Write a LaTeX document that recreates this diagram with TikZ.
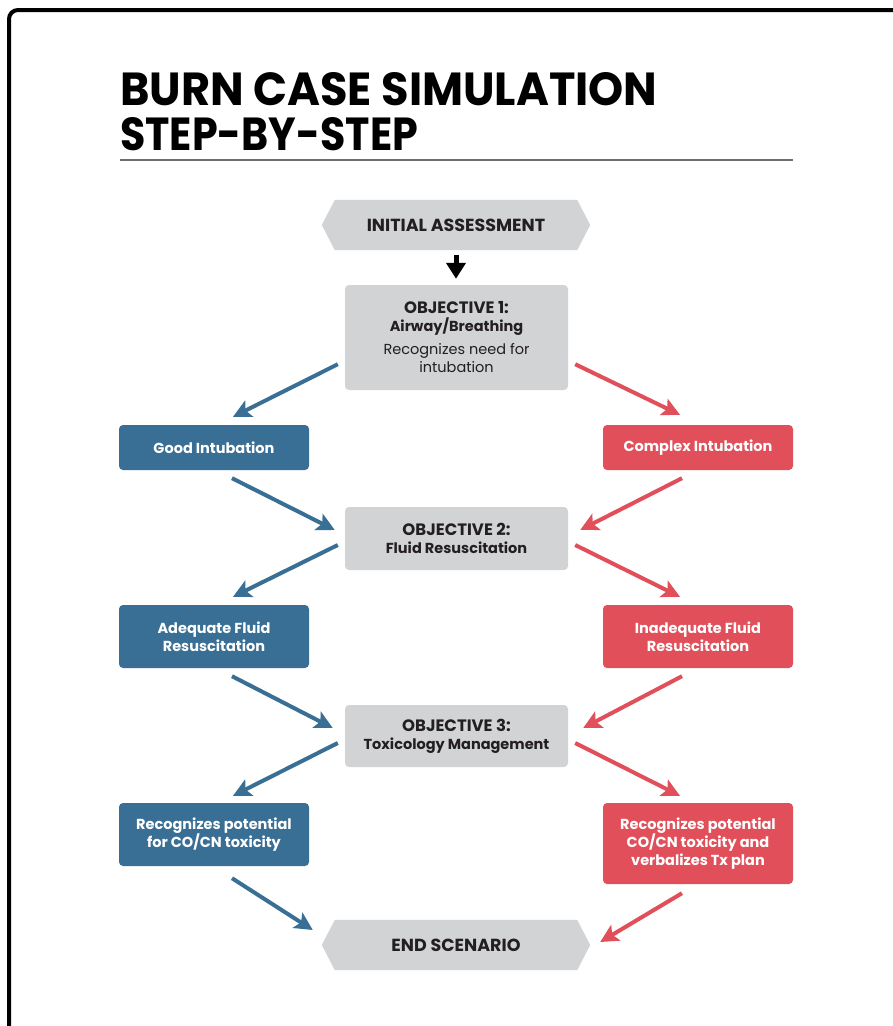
\documentclass[tikz,border=0pt]{standalone}
\usepackage{fontspec}
\usepackage{graphicx}
\setmainfont{Poppins}
\usetikzlibrary{arrows.meta,calc,backgrounds}

\definecolor{boxgray}{HTML}{D1D3D4}
\definecolor{goodblue}{HTML}{3A6F95}
\definecolor{badred}{HTML}{E1505A}
\definecolor{inkdark}{HTML}{231F20}
\definecolor{rulegray}{HTML}{6D6E70}

% type sizes for the step labels
\newcommand\capsfont{\fontsize{16.5}{18}\selectfont\bfseries}
\newcommand\boldfont{\fontsize{14.5}{18}\selectfont\bfseries}
\newcommand\plainfont{\fontsize{14.5}{18}\selectfont}

\tikzset{
  objbox/.style={fill=boxgray, rounded corners=4pt, minimum width=223pt,
    inner sep=0pt, align=center, text=inkdark, font=\fontsize{14.5}{18}\selectfont},
  hexlabel/.style={minimum width=268pt, minimum height=50pt, inner sep=0pt,
    text=inkdark, font=\fontsize{17.5}{20}\selectfont\bfseries},
  bluebox/.style={fill=goodblue, rounded corners=4pt, minimum width=190pt,
    inner sep=0pt, align=center, text=white, font=\fontsize{14.5}{18}\selectfont\bfseries},
  redbox/.style={bluebox, fill=badred},
  barrow/.style={draw=goodblue, line width=4pt,
    -{Stealth[length=18pt,width=18pt,inset=4pt]}},
  rarrow/.style={barrow, draw=badred},
  downarrow/.style={draw=black, line width=5pt,
    -{Triangle[length=16pt,width=19pt]}},
}

\begin{document}
\begin{tikzpicture}[x=1pt,y=-1pt]
\useasboundingbox (0,0) rectangle (893,1026);

% frame
\draw[line width=4pt, rounded corners=9pt] (9,1030) -- (9,10) -- (897,10);

% title and rule
\node[anchor=base west, inner sep=0pt] (title1) at (120,105)
  {\resizebox{537pt}{33pt}{\bfseries BURN CASE SIMULATION}};
\node[anchor=base west, inner sep=0pt] (title2) at (120,150)
  {\resizebox{298pt}{33pt}{\bfseries STEP-BY-STEP}};
\draw[rulegray, line width=2pt] (120,160) coordinate (ruleL) -- (793,160) coordinate (ruleR);

% central column
\node[hexlabel] (init) at (456,225) {INITIAL ASSESSMENT};
\node[objbox, minimum height=105pt] (obj1) at (456.5,337.5)
  {{\capsfont OBJECTIVE 1:}\\{\boldfont Airway/Breathing}\\[5pt]{\plainfont Recognizes need for}\\{\plainfont intubation}};
\node[objbox, minimum height=63pt] (obj2) at (456.5,538.5)
  {{\capsfont OBJECTIVE 2:}\\{\boldfont Fluid Resuscitation}};
\node[objbox, minimum height=62pt] (obj3) at (456.5,736)
  {{\capsfont OBJECTIVE 3:}\\{\boldfont Toxicology Management}};
\node[hexlabel] (end) at (456,945) {END SCENARIO};

% hexagons behind the start and end labels
\begin{scope}[on background layer]
  \foreach \n in {init,end}{
    \fill[boxgray] (\n.west) -- ($(\n.north west)+(13,0)$) -- ($(\n.north east)+(-13,0)$)
      -- (\n.east) -- ($(\n.south east)+(-13,0)$) -- ($(\n.south west)+(13,0)$) -- cycle;
  }
\end{scope}

% outcome boxes
\node[bluebox, minimum height=45pt] (good) at (214,447.5) {Good Intubation};
\node[redbox, minimum height=45pt] (complex) at (698,447.5) {Complex Intubation};
\node[bluebox, minimum height=63pt] (adequate) at (214,636.5) {Adequate Fluid\\Resuscitation};
\node[redbox, minimum height=63pt] (inadequate) at (698,636.5) {Inadequate Fluid\\Resuscitation};
\node[bluebox, minimum height=63pt] (recL) at (214,834.5) {Recognizes potential\\for CO/CN toxicity};
\node[redbox, minimum height=81pt] (recR) at (698,843.5) {Recognizes potential\\CO/CN toxicity and\\verbalizes Tx plan};

% connectors
\draw[downarrow] ($(init.south)+(0,5)$) -- ($(obj1.north)+(-0.5,-6)$);

\draw[barrow] ($(obj1.south west)+(-7,-26)$) -- ($(good.north)+(19,-8)$);
\draw[rarrow] ($(obj1.south east)+(7,-26)$) -- ($(complex.north)+(-18,-10)$);
\draw[barrow] ($(good.south)+(18,8)$) -- ($(obj2.west)+(-10,-8.5)$);
\draw[rarrow] ($(complex.south)+(-16,8)$) -- ($(obj2.east)+(12,-8.5)$);

\draw[barrow] ($(obj2.west)+(-7,6.5)$) -- ($(adequate.north)+(19,-8)$);
\draw[rarrow] ($(obj2.east)+(7,6.5)$) -- ($(inadequate.north)+(-18,-8)$);
\draw[barrow] ($(adequate.south)+(18,8)$) -- ($(obj3.west)+(-12,-8)$);
\draw[rarrow] ($(inadequate.south)+(-16,8)$) -- ($(obj3.east)+(15,-8)$);

\draw[barrow] ($(obj3.west)+(-7,7)$) -- ($(recL.north)+(19,-7)$);
\draw[rarrow] ($(obj3.east)+(7,7)$) -- ($(recR.north)+(-18,-7)$);
\draw[barrow] ($(recL.south)+(18,12)$) -- ($(end.west)+(-9,-15)$);
\draw[rarrow] ($(recR.south)+(-16,9)$) -- ($(end.east)+(10,-3)$);
\end{tikzpicture}
\end{document}
